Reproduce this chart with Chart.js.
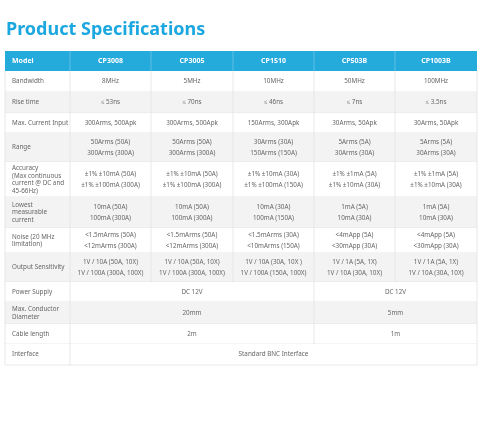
<!DOCTYPE html>
<html><head><meta charset="utf-8">
<script src="https://cdn.jsdelivr.net/npm/chart.js@4/dist/chart.umd.min.js"></script>
<style>html,body{margin:0;background:#fff}#w{width:480px;height:447px}</style>
</head><body><div id="w"><canvas id="c"></canvas></div>
<script>
const models = ["CP3008","CP3005","CP1510","CP503B","CP1003B"];
const rowLabels = [["Bandwidth"],["Rise time"],["Max. Current Input"],["Range"],
 ["Accuracy","(Max continuous","current @ DC and","45-66Hz)"],["Lowest","measurable","current"],
 ["Noise (20 MHz","limitation)"],["Output Sensitivity"],["Power Supply"],["Max. Conductor","Diameter"],["Cable length"],["Interface"]];
const bandwidth = ["8MHz","5MHz","10MHz","50MHz","100MHz"];
const riseTime = ["≤ 53ns","≤ 70ns","≤ 46ns","≤ 7ns","≤ 3.5ns"];
const maxInput = ["300Arms, 500Apk","300Arms, 500Apk","150Arms, 300Apk","30Arms, 50Apk","30Arms, 50Apk"];
const range = [["50Arms (50A)","300Arms (300A)"],["50Arms (50A)","300Arms (300A)"],["30Arms (30A)","150Arms (150A)"],["5Arms (5A)","30Arms (30A)"],["5Arms (5A)","30Arms (30A)"]];
const accuracy = [["±1% ±10mA (50A)","±1% ±100mA (300A)"],["±1% ±10mA (50A)","±1% ±100mA (300A)"],["±1% ±10mA (30A)","±1% ±100mA (150A)"],["±1% ±1mA (5A)","±1% ±10mA (30A)"],["±1% ±1mA (5A)","±1% ±10mA (30A)"]];
const lowest = [["10mA (50A)","100mA (300A)"],["10mA (50A)","100mA (300A)"],["10mA (30A)","100mA (150A)"],["1mA (5A)","10mA (30A)"],["1mA (5A)","10mA (30A)"]];
const noise = [["<1.5mArms (50A)","<12mArms (300A)"],["<1.5mArms (50A)","<12mArms (300A)"],["<1.5mArms (30A)","<10mArms (150A)"],["<4mApp (5A)","<30mApp (30A)"],["<4mApp (5A)","<30mApp (30A)"]];
const sensitivity = [["1V / 10A (50A, 10X)","1V / 100A (300A, 100X)"],["1V / 10A (50A, 10X)","1V / 100A (300A, 100X)"],["1V / 10A (30A, 10X )","1V / 100A (150A, 100X)"],["1V / 1A (5A, 1X)","1V / 10A (30A, 10X)"],["1V / 1A (5A, 1X)","1V / 10A (30A, 10X)"]];
const powerSupply = [["DC 12V",3],["DC 12V",2]];
const conductor = [["20mm",3],["5mm",2]];
const cable = [["2m",3],["1m",2]];
const iface = [["Standard BNC Interface",5]];

const rowEdges = [51,71,92,113,133,162,197,228,253,282,302,324,344,365];
const colEdges = [5,70,151,233,314,395,477];
const cells = [bandwidth,riseTime,maxInput,range,accuracy,lowest,noise,sensitivity];
const spans = [powerSupply,conductor,cable,iface];
const shaded = [false,true,false,true,false,true,false,true,false,true,false,false];

const tablePlugin = {id:'tbl', afterDraw(ch){
  const g=ch.ctx, xs=ch.scales.x, ys=ch.scales.y;
  const X=v=>xs.getPixelForValue(v), Y=v=>ys.getPixelForValue(v);
  g.save();
  g.fillStyle='#1ba7df'; g.font='bold 18px "Noto Sans"'; g.textBaseline='middle';
  g.fillText('Product Specifications',X(6),Y(30));
  g.fillStyle='#25aadc'; g.fillRect(X(5),Y(51),X(477)-X(5),Y(71)-Y(51));
  g.fillStyle='#fff'; g.font='bold 7px "Noto Sans"';
  g.textAlign='left'; g.fillText('Model',X(12),Y(61));
  g.textAlign='center';
  models.forEach((m,i)=>g.fillText(m,(X(colEdges[i+1])+X(colEdges[i+2]))/2,Y(61)));
  const nRows=rowLabels.length;
  for(let r=0;r<nRows;r++){
    const y0=Y(rowEdges[r+1]), y1=Y(rowEdges[r+2]), ym=(y0+y1)/2;
    g.fillStyle=shaded[r]?'#f3f3f3':'#fff';
    g.fillRect(X(5),y0,X(477)-X(5),y1-y0);
    g.fillStyle='#666'; g.font='6.3px "Noto Sans"'; g.textAlign='left';
    const L=rowLabels[r]; const lh=7.5;
    L.forEach((t,k)=>g.fillText(t,X(12),ym+(k-(L.length-1)/2)*lh));
    g.textAlign='center';
    const drawTxt=(txt,cx)=>{const a=Array.isArray(txt)?txt:[txt];const h=11;
      a.forEach((t,k)=>g.fillText(t,cx,ym+(k-(a.length-1)/2)*h));};
    if(r<cells.length){
      cells[r].forEach((t,i)=>drawTxt(t,(X(colEdges[i+1])+X(colEdges[i+2]))/2));
    } else {
      let c=1; spans[r-cells.length].forEach(([t,s])=>{
        drawTxt(t,(X(colEdges[c])+X(colEdges[c+s]))/2);
        g.strokeStyle='#e2e2e2'; g.lineWidth=0.8;
        if(c>1){g.beginPath();g.moveTo(X(colEdges[c]),y0);g.lineTo(X(colEdges[c]),y1);g.stroke();}
        c+=s;});
    }
    g.strokeStyle='#e2e2e2'; g.lineWidth=0.8;
    g.beginPath(); g.moveTo(X(5),y1); g.lineTo(X(477),y1);
    const lim = r<cells.length?colEdges.length:2;
    for(let i=0;i<lim;i++){g.moveTo(X(colEdges[i]),y0);g.lineTo(X(colEdges[i]),y1);}
    if(r>=cells.length){g.moveTo(X(477),y0);g.lineTo(X(477),y1);}
    g.stroke();
  }
  g.strokeStyle='#ffffff55';
  g.beginPath();
  for(let i=1;i<colEdges.length-1;i++){g.moveTo(X(colEdges[i]),Y(51));g.lineTo(X(colEdges[i]),Y(71));}
  g.stroke();
  g.restore();
}};
new Chart(document.getElementById('c'),{
  type:'scatter', data:{datasets:[{data:[]}]},
  options:{responsive:true,maintainAspectRatio:false,animation:false,
    layout:{padding:0},
    plugins:{legend:{display:false},tooltip:{enabled:false}},
    scales:{x:{type:'linear',min:0,max:480,display:false},
            y:{type:'linear',min:0,max:447,reverse:true,display:false}}},
  plugins:[tablePlugin]});
</script></body></html>
